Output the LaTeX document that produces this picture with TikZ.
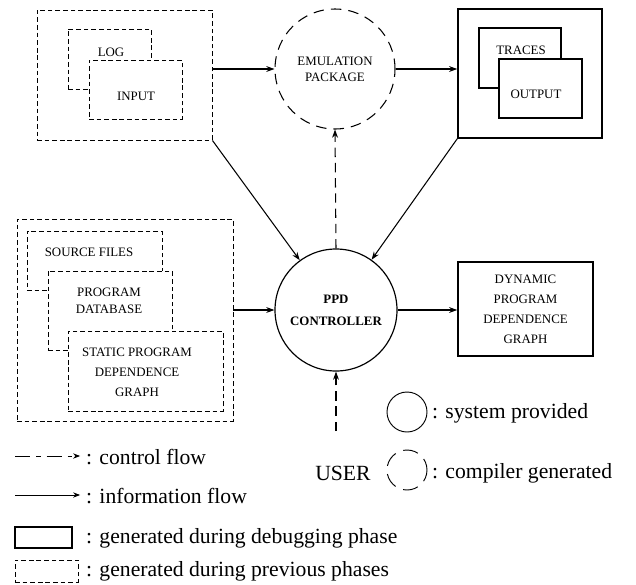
\documentclass[tikz,border=0pt]{standalone}
\usepackage{fontspec}
\setmainfont{Liberation Serif}
\usetikzlibrary{arrows.meta,positioning}

\tikzset{
  every node/.style={font=\fontsize{11}{17}\selectfont},
  prevbox/.style={draw, line width=0.8pt, dash pattern=on 4pt off 2.5pt, fill=white, inner sep=0pt},
  runbox/.style={draw, line width=1.3pt, fill=white, inner sep=0pt},
  sysproc/.style={circle, draw, line width=1pt, inner sep=0pt},
  genproc/.style={circle, draw, line width=0.9pt, dash pattern=on 9pt off 6pt, inner sep=0pt},
  infoflow/.style={-{Stealth[length=7pt,width=5pt]}, line width=0.9pt},
  ctrlflow/.style={infoflow, dash pattern=on 8pt off 5pt},
  legtext/.style={font=\fontsize{18.5}{22}\selectfont, anchor=west, inner sep=0pt},
}

\begin{document}
\begin{tikzpicture}[x=0.3mm,y=-0.3mm]
  \useasboundingbox (0,0) rectangle (636,584);

  % input side: log and input files
  \node[prevbox, minimum width=5.25cm, minimum height=3.9cm] (inbox) at (124.5,75) {};
  \node[prevbox, minimum width=2.49cm, minimum height=1.8cm] (logbox) at (109.5,59) {};
  \node (loglbl) at (111,52) {LOG};
  \node[prevbox, minimum width=2.79cm, minimum height=1.77cm] (inputbox) at (135.5,89.5) {};
  \node (inputlbl) at (136,96) {INPUT};

  % emulation package
  \node[genproc, minimum size=3.6cm, align=center] (emul) at (335,69) {EMULATION\\[-3pt]PACKAGE};

  % output side: traces and output
  \node[runbox, minimum width=4.32cm, minimum height=3.87cm] (outbox) at (530,73.5) {};
  \node[runbox, line width=0.9pt, minimum width=2.46cm, minimum height=1.8cm] (tracebox) at (520,58) {};
  \node (tracelbl) at (521,50) {TRACES};
  \node[runbox, line width=0.9pt, minimum width=2.49cm, minimum height=1.77cm] (outputbox) at (540.5,88.5) {};
  \node (outputlbl) at (536,94) {OUTPUT};

  % static information from earlier phases
  \node[prevbox, minimum width=6.48cm, minimum height=6.06cm] (srcgroup) at (125,320) {};
  \node[prevbox, minimum width=4.05cm, minimum height=1.77cm] (srcbox) at (94.5,260.5) {};
  \node (srclbl) at (89,252) {SOURCE FILES};
  \node[prevbox, minimum width=3.72cm, minimum height=2.37cm] (dbbox) at (110,310.5) {};
  \node[align=center] (dblbl) at (109,301) {PROGRAM\\[-2pt]DATABASE};
  \node[prevbox, line width=0.6pt, minimum width=4.65cm, minimum height=2.4cm] (sdgbox) at (145.5,371) {};
  \node[align=center] (sdglbl) at (137,372) {STATIC PROGRAM\\DEPENDENCE\\GRAPH};

  % controller and its result
  \node[sysproc, minimum size=3.66cm, align=center, font=\fontsize{11}{17}\bfseries] (ppd) at (336,310) {PPD\\[2pt]CONTROLLER};
  \node[runbox, minimum width=4.05cm, minimum height=2.82cm, align=center] (dpdg) at (525.5,309) {DYNAMIC\\PROGRAM\\DEPENDENCE\\GRAPH};

  % user
  \node[font=\fontsize{18.5}{22}\selectfont] (user) at (343,473) {USER};
  \coordinate (usertop) at (336,431);

  % flows
  \draw[infoflow] (inbox.east |- emul) -- (emul.west);
  \draw[infoflow] (emul.east) -- (outbox.west |- emul);
  \draw[infoflow] (inbox.south east) -- (ppd);
  \draw[infoflow] (outbox.south west) -- (ppd);
  \draw[ctrlflow] (ppd.north) -- (emul.south);
  \draw[infoflow] (srcgroup.east |- ppd) -- (ppd.west);
  \draw[infoflow] (ppd.east) -- (dpdg.west |- ppd);
  \draw[ctrlflow] (usertop) -- (ppd.south);

  % legend
  \node[sysproc, line width=0.8pt, minimum size=1.2cm] (sysleg) at (407,412) {};
  \node[legtext] (systext) at (432,413) {: system provided};
  \node[genproc, line width=0.8pt, dash pattern=on 13pt off 7pt, dash phase=3pt, minimum size=1.2cm] (genleg) at (407,470) {};
  \node[legtext] (gentext) at (432,473) {: compiler generated};

  \coordinate (cfstart) at (15,456);
  \node[legtext] (cftext) at (86,457) {: control flow};
  \draw[-{Stealth[length=6pt,width=4.5pt]}, line width=0.7pt, dash pattern=on 13pt off 5pt on 4pt off 5pt, shorten >=5pt] (cfstart) -- (cftext.west |- cfstart);
  \coordinate (ifstart) at (15,495);
  \node[legtext] (iftext) at (86,496) {: information flow};
  \draw[-{Stealth[length=6pt,width=4.5pt]}, line width=0.7pt, shorten >=5pt] (ifstart) -- (iftext.west |- ifstart);

  \node[runbox, line width=0.9pt, minimum width=1.71cm, minimum height=0.63cm] (debugleg) at (43.5,537.5) {};
  \node[legtext] (debugtext) at (86,538) {: generated during debugging phase};
  \node[prevbox, line width=0.7pt, minimum width=1.89cm, minimum height=0.66cm] (prevleg) at (46.5,571) {};
  \node[legtext] (prevtext) at (86,571) {: generated during previous phases};

\end{tikzpicture}
\end{document}
